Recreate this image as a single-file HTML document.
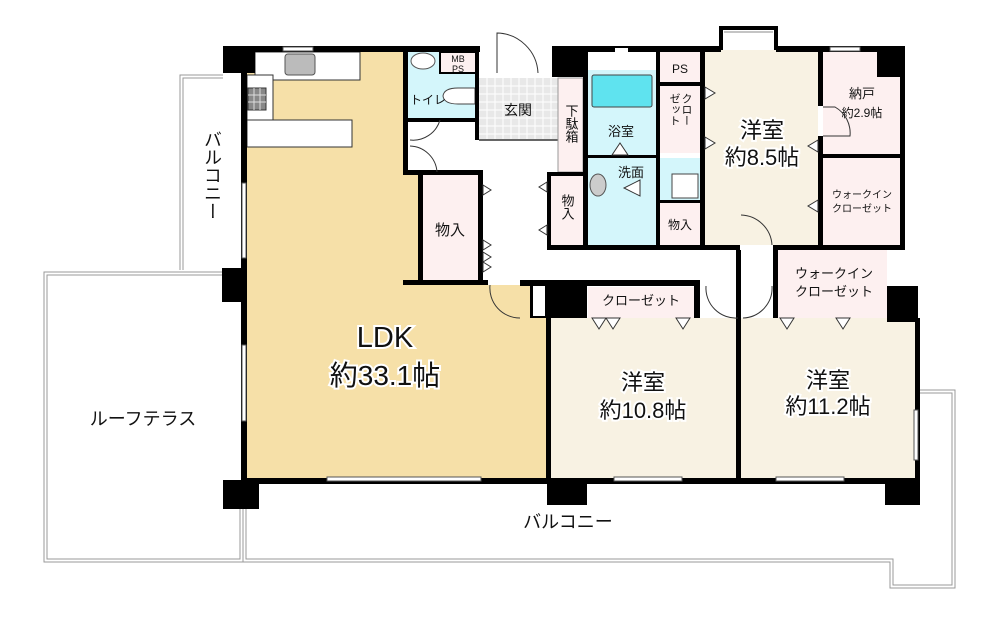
<!DOCTYPE html>
<html><head><meta charset="utf-8"><style>
html,body{margin:0;padding:0;background:#fff;}
svg{display:block;}
text{font-family:"Liberation Sans","Noto Sans CJK JP",sans-serif;fill:#111;}
.v{writing-mode:vertical-rl;}
</style></head><body>
<svg width="1000" height="617" viewBox="0 0 1000 617" xmlns="http://www.w3.org/2000/svg">
<g fill="none" stroke="#999" stroke-width="1">
  <path d="M180,270 V75 H223"/><path d="M183,270 V78 H223"/>
  <path d="M225,272 H44 V562 H243 V505"/><path d="M225,275 H47 V559 H240 V505"/>
  <path d="M246,505 V559 H893 V585 H952 V393 H920"/>
  <path d="M243,562 H890 V588 H955 V390 H920"/>
</g>
<polygon points="247,52 405,52 405,173 420,173 420,282 548,282 548,478 247,478" fill="#f6e0a8"/>
<rect x="408" y="118" width="150" height="55" fill="#fff"/>
<rect x="483" y="140" width="100" height="145" fill="#fff"/>
<rect x="420" y="245" width="320" height="37" fill="#fff"/>
<rect x="740" y="245" width="35" height="75" fill="#fff"/>
<rect x="700" y="282" width="38" height="36" fill="#fff"/>
<rect x="255" y="52" width="105" height="28" fill="#fff" stroke="#333" stroke-width="1"/>
<rect x="285" y="54" width="30" height="21" rx="3" fill="#bbb" stroke="#555"/>
<rect x="247" y="75" width="26" height="45" fill="#fff" stroke="#333" stroke-width="1"/>
<rect x="248" y="88" width="18" height="22" fill="#888" stroke="#333"/>
<g stroke="#ddd" stroke-width="1"><path d="M248,95H266M248,102H266M254,88V110M260,88V110"/></g>
<rect x="247" y="120" width="105" height="27" fill="#fff" stroke="#333" stroke-width="1"/>
<rect x="408" y="52" width="68" height="66" fill="#d4f6fb"/>
<rect x="440" y="52" width="36" height="21" fill="#fdf0f0" stroke="#000" stroke-width="2"/>
<ellipse cx="423" cy="61" rx="12" ry="8" fill="#fff" stroke="#555"/>
<path d="M475,88 H458 Q444,88 443,96 Q444,104 458,104 H475 Z" fill="#fff" stroke="#444"/>
<rect x="479" y="78" width="79" height="62" fill="#e8e8e8"/>
<g stroke="#fff" stroke-width="1">
<path d="M479,86H558M479,94H558M479,102H558M479,110H558M479,118H558M479,126H558M479,134H558"/>
<path d="M487,78V140M495,78V140M503,78V140M511,78V140M519,78V140M527,78V140M535,78V140M543,78V140M551,78V140"/>
</g>
<line x1="479" y1="140" x2="558" y2="140" stroke="#666" stroke-width="2"/>
<rect x="558" y="78" width="25" height="94" fill="#fdf0f0" stroke="#999"/>
<rect x="422" y="175" width="56" height="105" fill="#fdf0f0"/>
<rect x="551" y="176" width="32" height="69" fill="#fdf0f0"/>
<rect x="588" y="70" width="68" height="88" fill="#d4f6fb"/>
<rect x="592" y="75" width="60" height="32" rx="2" fill="#5fe3ef" stroke="#444"/>
<rect x="588" y="158" width="68" height="87" fill="#d4f6fb"/>
<rect x="660" y="158" width="40" height="42" fill="#d4f6fb"/>
<rect x="672" y="174" width="26" height="24" fill="#fff" stroke="#444"/>
<ellipse cx="598" cy="185" rx="8" ry="11" fill="#ccc" stroke="#555"/>
<rect x="660" y="203" width="40" height="42" fill="#fdf0f0"/>
<rect x="660" y="52" width="40" height="30" fill="#fdf0f0"/>
<rect x="660" y="86" width="40" height="67" fill="#fdf0f0"/>
<rect x="705" y="50" width="113" height="195" fill="#f8f2e3"/>
<rect x="823" y="52" width="77" height="103" fill="#fdf0f0"/>
<rect x="823" y="158" width="77" height="87" fill="#fdf0f0"/>
<rect x="778" y="250" width="109" height="68" fill="#fdf0f0"/>
<rect x="588" y="287" width="106" height="31" fill="#fdf0f0"/>
<rect x="551" y="318" width="185" height="160" fill="#f8f2e3"/>
<rect x="741" y="318" width="174" height="160" fill="#f8f2e3"/>
<g fill="#000">
<rect x="223" y="46" width="257" height="6"/>
<rect x="223" y="46" width="32" height="27"/>
<rect x="241" y="46" width="6" height="437"/>
<rect x="222" y="268" width="22" height="34"/>
<rect x="223" y="480" width="36" height="29"/>
<rect x="241" y="478" width="679" height="6"/>
<rect x="547" y="480" width="40" height="25"/>
<rect x="885" y="480" width="35" height="25"/>
<rect x="915" y="318" width="5" height="165"/>
<rect x="736" y="250" width="5" height="232"/>
<rect x="546" y="282" width="5" height="200"/>
<rect x="403" y="46" width="5" height="127"/>
<rect x="403" y="170" width="80" height="5"/>
<rect x="418" y="170" width="5" height="115"/>
<rect x="478" y="170" width="5" height="115"/>
<rect x="403" y="280" width="85" height="5"/>
<rect x="520" y="280" width="180" height="6"/>
<rect x="530" y="282" width="57" height="36"/>
<rect x="694" y="282" width="6" height="36"/>
<rect x="408" y="118" width="70" height="4"/>
<rect x="475" y="52" width="4" height="88"/>
<rect x="552" y="46" width="169" height="6"/>
<rect x="776" y="46" width="129" height="6"/>
<rect x="552" y="46" width="33" height="31"/>
<rect x="877" y="46" width="28" height="31"/>
<rect x="583" y="46" width="5" height="204"/>
<rect x="656" y="52" width="4" height="198"/>
<rect x="700" y="46" width="5" height="204"/>
<rect x="818" y="46" width="5" height="60"/>
<rect x="818" y="136" width="5" height="114"/>
<rect x="900" y="46" width="5" height="204"/>
<rect x="823" y="154" width="77" height="4"/>
<rect x="588" y="155" width="68" height="3"/>
<rect x="660" y="200" width="40" height="3"/>
<rect x="660" y="82" width="40" height="4"/>
<rect x="547" y="172" width="41" height="4"/>
<rect x="547" y="172" width="4" height="78"/>
<rect x="547" y="245" width="193" height="5"/>
<rect x="773" y="245" width="132" height="5"/>
<rect x="773" y="245" width="5" height="73"/>
<rect x="887" y="286" width="31" height="36"/>
</g>
<rect x="533" y="286" width="12" height="30" fill="#fff"/>
<rect x="615" y="48" width="13" height="15" fill="#fff"/>
<path d="M721,50 V28 H776 V50" fill="#fff" stroke="#000" stroke-width="4"/>
<line x1="724" y1="32" x2="773" y2="32" stroke="#888"/>
<g fill="#fff" stroke="#555" stroke-width="1">
<rect x="327" y="477" width="154" height="4"/>
<rect x="614" y="477" width="68" height="4"/>
<rect x="776" y="477" width="68" height="4"/>
<rect x="242" y="345" width="4" height="76"/>
<rect x="242" y="183" width="4" height="75"/>
<rect x="914" y="410" width="4" height="50"/>
<rect x="283" y="47" width="30" height="4"/>
<rect x="830" y="47" width="30" height="4"/>
</g>
<g fill="none" stroke="#333" stroke-width="1">
<path d="M497,73 V33 A42,42 0 0 1 538,73"/>
<path d="M410,140 A28,28 0 0 0 440,120"/>
<path d="M410,146 A28,28 0 0 1 437,172"/>
<path d="M490,285 A30,30 0 0 0 520,318"/>
<path d="M741,215 A32,32 0 0 1 772,245"/>
<path d="M706,286 A30,30 0 0 0 738,318"/>
<path d="M743,318 A30,30 0 0 0 772,286"/>
<path d="M823,107 H835 A30,30 0 0 1 850,136 H823"/>
</g>
<g fill="#fff" stroke="#333" stroke-width="1">
<path d="M483,185 l8,5 l-8,5z M483,240 l8,5 l-8,5z M483,252 l8,5 l-8,5z M483,262 l8,5 l-8,5z"/>
<path d="M547,182 l-8,5 l8,5z M547,225 l-8,5 l8,5z"/>
<path d="M705,87 l10,6 l-10,6z M705,137 l10,6 l-10,6z"/>
<path d="M818,140 l-10,6 l10,6z M818,200 l-10,6 l10,6z"/>
<path d="M640,180 l-16,8 l16,8z"/>
<path d="M612,155 l8,-12 l8,12z"/>
<path d="M592,318 l7,11 l7,-11z M606,318 l7,11 l7,-11z M676,318 l7,11 l7,-11z"/>
<path d="M780,318 l7,11 l7,-11z M836,318 l7,11 l7,-11z"/>
</g>
<g stroke="#fff" stroke-width="4" paint-order="stroke">
<text x="385" y="347" font-size="29" text-anchor="middle">LDK</text>
<text x="385" y="385" font-size="28" text-anchor="middle">約33.1帖</text>
<text x="643" y="390" font-size="22" text-anchor="middle">洋室</text>
<text x="643" y="418" font-size="22" text-anchor="middle">約10.8帖</text>
<text x="828" y="388" font-size="22" text-anchor="middle">洋室</text>
<text x="828" y="414" font-size="22" text-anchor="middle">約11.2帖</text>
<text x="762" y="138" font-size="22" text-anchor="middle">洋室</text>
<text x="762" y="165" font-size="22" text-anchor="middle">約8.5帖</text>
</g>
<text x="143" y="425" font-size="18" text-anchor="middle">ルーフテラス</text>
<text x="568" y="528" font-size="18" text-anchor="middle">バルコニー</text>
<text x="212" y="130" font-size="18" class="v">バルコニー</text>
<text x="450" y="235" font-size="15" text-anchor="middle">物入</text>
<text x="518" y="115" font-size="14" text-anchor="middle">玄関</text>
<text x="428" y="104" font-size="12" text-anchor="middle">トイレ</text>
<text x="458" y="62" font-size="9" text-anchor="middle">MB</text>
<text x="458" y="72" font-size="9" text-anchor="middle">PS</text>
<text x="571" y="104" font-size="13" class="v">下駄箱</text>
<text x="567" y="194" font-size="13" class="v">物入</text>
<text x="621" y="136" font-size="13" text-anchor="middle">浴室</text>
<text x="631" y="177" font-size="13" text-anchor="middle">洗面</text>
<text x="680" y="229" font-size="12" text-anchor="middle">物入</text>
<text x="680" y="73" font-size="12" text-anchor="middle">PS</text>
<text x="686" y="93" font-size="11" class="v">クロー</text>
<text x="674" y="93" font-size="11" class="v">ゼット</text>
<text x="862" y="98" font-size="13" text-anchor="middle">納戸</text>
<text x="862" y="117" font-size="12" text-anchor="middle">約2.9帖</text>
<text x="862" y="198" font-size="10" text-anchor="middle">ウォークイン</text>
<text x="862" y="212" font-size="10" text-anchor="middle">クローゼット</text>
<text x="834" y="278" font-size="13" text-anchor="middle">ウォークイン</text>
<text x="834" y="296" font-size="13" text-anchor="middle">クローゼット</text>
<text x="641" y="305" font-size="13" text-anchor="middle">クローゼット</text>
</svg>
</body></html>
